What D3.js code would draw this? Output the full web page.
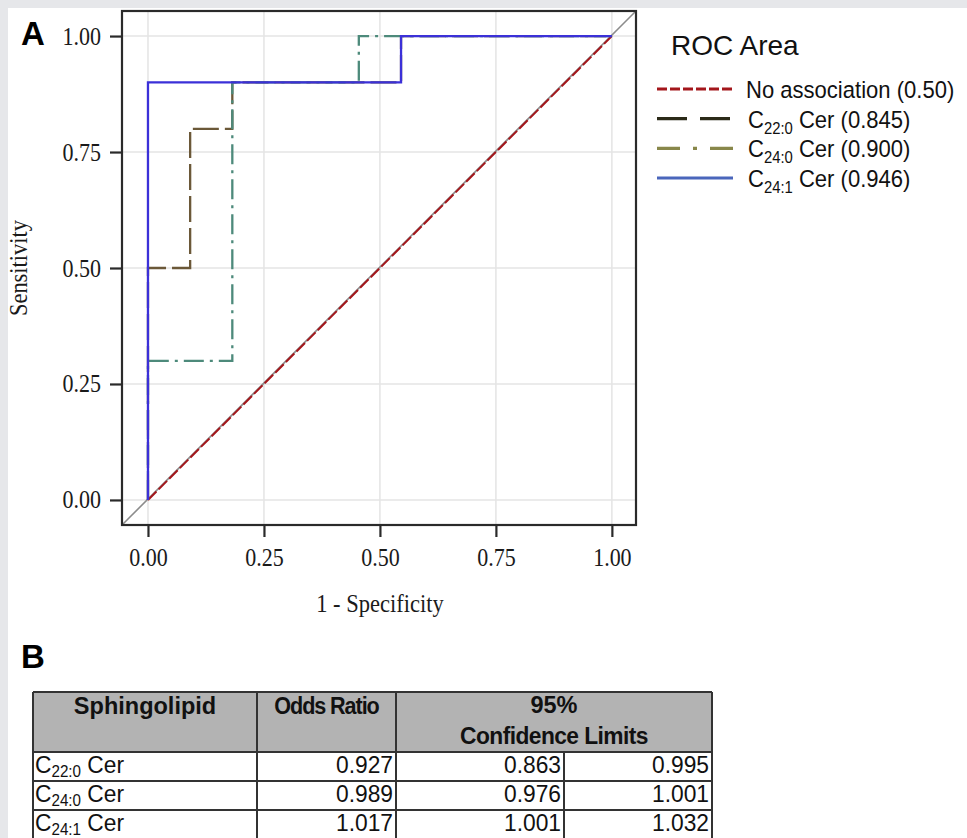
<!DOCTYPE html>
<html>
<head>
<meta charset="utf-8">
<script src="https://cdn.jsdelivr.net/npm/d3@7"></script>
<style>
  html, body { margin: 0; padding: 0; background: #e6e7ea; }
  svg { display: block; }
</style>
</head>
<body>
<svg id="chart" width="967" height="838"></svg>
<script>
// ---------------- DATA ----------------
const curveNames = ["No association", "C22:0 Cer", "C24:0 Cer", "C24:1 Cer"];
const rocAreas = ["0.50", "0.845", "0.900", "0.946"];
const axisTicks = [0, 0.25, 0.5, 0.75, 1];
const tickLabels = ["0.00", "0.25", "0.50", "0.75", "1.00"];

const refFpr = [0, 1];
const refSens = [0, 1];
const c220Fpr = [0, 0, 0.0909, 0.0909, 0.1818, 0.1818, 0.5455, 0.5455, 1];
const c220Sens = [0, 0.5, 0.5, 0.8, 0.8, 0.9, 0.9, 1, 1];
const c240Fpr = [0, 0, 0.1818, 0.1818, 0.4545, 0.4545, 1];
const c240Sens = [0, 0.3, 0.3, 0.9, 0.9, 1, 1];
const c241Fpr = [0, 0, 0.5455, 0.5455, 1];
const c241Sens = [0, 0.9, 0.9, 1, 1];

const tableHeaders = ["Sphingolipid", "Odds Ratio", "95%", "Confidence Limits"];
const lipidBase = ["C", "C", "C"];
const lipidSub = ["22:0", "24:0", "24:1"];
const oddsRatio = ["0.927", "0.989", "1.017"];
const lowerCL = ["0.863", "0.976", "1.001"];
const upperCL = ["0.995", "1.001", "1.032"];

// ---------------- SETUP ----------------
const svg = d3.select("#chart");
const SANS = "'Liberation Sans', Arial, sans-serif";
const SERIF = "'Liberation Serif', 'Times New Roman', serif";

// horizontally condense text (reference type is narrow and tall)
function squeeze(sel, sx) {
  sel.each(function() {
    const t = d3.select(this);
    const tx = +t.attr("x") || 0, ty = +t.attr("y") || 0;
    t.attr("x", 0).attr("y", 0).attr("transform", `translate(${tx},${ty}) scale(${sx},1)`);
  });
  return sel;
}

svg.append("rect").attr("x", 8).attr("y", 8).attr("width", 959).attr("height", 830).attr("fill", "#ffffff");

const frame = { left: 122, top: 11, right: 636, bottom: 525 };
const x = d3.scaleLinear().domain([-0.056, 1.052]).range([frame.left, frame.right]);
const y = d3.scaleLinear().domain([-0.054, 1.054]).range([frame.bottom, frame.top]);

// gridlines
const grid = svg.append("g");
grid.selectAll(".gx").data(axisTicks).join("line")
  .attr("x1", d => x(d)).attr("x2", d => x(d))
  .attr("y1", frame.top).attr("y2", frame.bottom)
  .attr("stroke", "#e4e4e4").attr("stroke-width", 1.5);
grid.selectAll(".gy").data(axisTicks).join("line")
  .attr("y1", d => y(d)).attr("y2", d => y(d))
  .attr("x1", frame.left).attr("x2", frame.right)
  .attr("stroke", "#e4e4e4").attr("stroke-width", 1.5);

// diagonal reference across frame
svg.append("line")
  .attr("x1", x(x.domain()[0])).attr("y1", y(y.domain()[0]))
  .attr("x2", x(x.domain()[1])).attr("y2", y(y.domain()[1]))
  .attr("stroke", "#8c8c8c").attr("stroke-width", 1.6);

const lineGen = d3.line().x(d => x(d[0])).y(d => y(d[1]));
const zip = (a, b) => a.map((v, i) => [v, b[i]]);

const curves = [
  { fpr: refFpr, sens: refSens, color: "#a3161b", width: 2, dash: "12,3" },
  { fpr: c220Fpr, sens: c220Sens, color: "#6b5838", width: 2.3, dash: "26,6" },
  { fpr: c240Fpr, sens: c240Sens, color: "#4d8a7b", width: 2.3, dash: "20,6,3,6" },
  { fpr: c241Fpr, sens: c241Sens, color: "#3b30d8", width: 2.3, dash: null }
];
svg.append("g").selectAll("path").data(curves).join("path")
  .attr("d", d => lineGen(zip(d.fpr, d.sens)))
  .attr("fill", "none")
  .attr("stroke", d => d.color)
  .attr("stroke-width", d => d.width)
  .attr("stroke-dasharray", d => d.dash);

// frame
svg.append("rect")
  .attr("x", frame.left).attr("y", frame.top)
  .attr("width", frame.right - frame.left).attr("height", frame.bottom - frame.top)
  .attr("fill", "none").attr("stroke", "#2a2a2a").attr("stroke-width", 2.2);

// axes
const xAxis = d3.axisBottom(x).tickValues(axisTicks).tickFormat((d, i) => tickLabels[i]).tickSize(12).tickPadding(11);
const gx = svg.append("g").attr("transform", `translate(0,${frame.bottom})`).call(xAxis);
gx.select(".domain").remove();
gx.selectAll(".tick line").attr("stroke", "#2a2a2a").attr("stroke-width", 2.2);
gx.selectAll(".tick text").attr("font-family", SERIF).attr("font-size", 25).attr("fill", "#1a1a1a").call(squeeze, 0.88);

const yAxis = d3.axisLeft(y).tickValues(axisTicks).tickFormat((d, i) => tickLabels[i]).tickSize(12).tickPadding(9);
const gy = svg.append("g").attr("transform", `translate(${frame.left},0)`).call(yAxis);
gy.select(".domain").remove();
gy.selectAll(".tick line").attr("stroke", "#2a2a2a").attr("stroke-width", 2.2);
gy.selectAll(".tick text").attr("font-family", SERIF).attr("font-size", 25).attr("fill", "#1a1a1a").call(squeeze, 0.88);

// axis titles
svg.append("text").attr("x", x(0.5)).attr("y", 612).attr("text-anchor", "middle")
  .attr("font-family", SERIF).attr("font-size", 25).attr("fill", "#1a1a1a").text("1 - Specificity").call(squeeze, 0.9);
svg.append("text").attr("transform", `translate(27,${y(0.5)}) rotate(-90) scale(0.9,1)`).attr("text-anchor", "middle")
  .attr("font-family", SERIF).attr("font-size", 25).attr("fill", "#1a1a1a").text("Sensitivity");

// panel letters
svg.append("text").attr("x", 21).attr("y", 45).attr("font-family", SANS).attr("font-weight", "bold")
  .attr("font-size", 33).attr("fill", "#000").text("A");
svg.append("text").attr("x", 21).attr("y", 668).attr("font-family", SANS).attr("font-weight", "bold")
  .attr("font-size", 33).attr("fill", "#000").text("B");

// ---------------- LEGEND ----------------
svg.append("text").attr("x", 671).attr("y", 55).attr("font-family", SANS).attr("font-size", 28)
  .attr("fill", "#111").text("ROC Area");
const legendStyles = [
  { color: "#a3161b", width: 2.8, dash: "10,3" },
  { color: "#2b2a18", width: 3.2, dash: "30,13" },
  { color: "#88874a", width: 3.2, dash: "23,13,4,13" },
  { color: "#4a66bb", width: 3.2, dash: null }
];
const legendY = d3.scalePoint().domain(curveNames).range([89, 178]);
const leg = svg.append("g").selectAll("g").data(curveNames).join("g")
  .attr("transform", d => `translate(0,${legendY(d)})`);
leg.append("line").attr("x1", 657).attr("x2", 733).attr("y1", 0).attr("y2", 0)
  .attr("stroke", (d, i) => legendStyles[i].color)
  .attr("stroke-width", (d, i) => legendStyles[i].width)
  .attr("stroke-dasharray", (d, i) => legendStyles[i].dash);
leg.each(function(d, i) {
  const t = d3.select(this).append("text")
    .attr("transform", `translate(${i === 0 ? 746 : 748},9) scale(0.9,1)`)
    .attr("font-family", SANS).attr("font-size", 24.5).attr("fill", "#111");
  if (i === 0) {
    t.text(`${d} (${rocAreas[i]})`);
  } else {
    const m = d.match(/^C(\S+) (.*)$/);
    t.append("tspan").text("C");
    t.append("tspan").attr("font-size", 16.5).attr("dy", 6).text(m[1]);
    t.append("tspan").attr("dy", -6).text(` ${m[2]} (${rocAreas[i]})`);
  }
});

// ---------------- TABLE ----------------
const tbl = { left: 33, top: 692, headerBottom: 752, rowH: 29, cols: [33, 257, 396, 564, 712] };
const rowScale = d3.scaleBand().domain(d3.range(lipidSub.length))
  .range([tbl.headerBottom, tbl.headerBottom + tbl.rowH * lipidSub.length]);
const tg = svg.append("g");
tg.append("rect").attr("x", tbl.cols[0]).attr("y", tbl.top)
  .attr("width", tbl.cols[4] - tbl.cols[0]).attr("height", tbl.headerBottom - tbl.top)
  .attr("fill", "#b3b3b3");
tg.append("rect").attr("x", tbl.cols[0]).attr("y", tbl.headerBottom)
  .attr("width", tbl.cols[4] - tbl.cols[0]).attr("height", tbl.rowH * 3)
  .attr("fill", "#ffffff");
const lineStyle = sel => sel.attr("stroke", "#333").attr("stroke-width", 2);
const hLines = [tbl.top, tbl.headerBottom].concat(d3.range(lipidSub.length).map(i => rowScale(i) + rowScale.bandwidth()));
tg.selectAll(".h").data(hLines).join("line")
  .attr("x1", tbl.cols[0]).attr("x2", tbl.cols[4]).attr("y1", d => d).attr("y2", d => d).call(lineStyle);
const bottomY = tbl.headerBottom + tbl.rowH * 3;
[tbl.cols[0], tbl.cols[1], tbl.cols[2], tbl.cols[4]].forEach(cx => {
  tg.append("line").attr("x1", cx).attr("x2", cx).attr("y1", tbl.top).attr("y2", bottomY).call(lineStyle);
});
tg.append("line").attr("x1", tbl.cols[3]).attr("x2", tbl.cols[3]).attr("y1", tbl.headerBottom).attr("y2", bottomY).call(lineStyle);

// headers
const hdr = (tx, ty, s, sx) => tg.append("text")
  .attr("transform", `translate(${tx},${ty}) scale(${sx},1)`).attr("text-anchor", "middle")
  .attr("font-family", SANS).attr("font-weight", "bold").attr("font-size", 24).attr("fill", "#111").text(s);
hdr((tbl.cols[0] + tbl.cols[1]) / 2, 714, tableHeaders[0], 0.98);
hdr((tbl.cols[1] + tbl.cols[2]) / 2, 714, tableHeaders[1], 0.9).attr("letter-spacing", -1.2);
hdr((tbl.cols[2] + tbl.cols[4]) / 2, 713, tableHeaders[2], 0.98);
hdr((tbl.cols[2] + tbl.cols[4]) / 2, 744, tableHeaders[3], 0.95).attr("letter-spacing", -0.6);

// body rows
lipidSub.forEach((sub, i) => {
  const by = rowScale(i) + rowScale.bandwidth() - 8;
  const t = tg.append("text").attr("transform", `translate(${tbl.cols[0] + 2},${by}) scale(0.95,1)`)
    .attr("font-family", SANS).attr("font-size", 24).attr("fill", "#111");
  t.append("tspan").text(lipidBase[i]);
  t.append("tspan").attr("font-size", 16).attr("dy", 4).text(sub);
  t.append("tspan").attr("dy", -4).text(" Cer");
  [oddsRatio[i], lowerCL[i], upperCL[i]].forEach((v, j) => {
    tg.append("text").attr("transform", `translate(${tbl.cols[j + 2] - 3},${by}) scale(0.95,1)`).attr("text-anchor", "end")
      .attr("font-family", SANS).attr("font-size", 24).attr("fill", "#111").text(v);
  });
});
</script>
</body>
</html>
